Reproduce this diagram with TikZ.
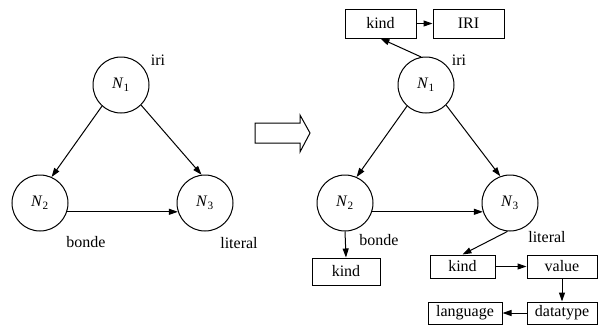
\documentclass[tikz,border=0pt]{standalone}
\usepackage{fontspec}
\setmainfont{Liberation Serif}
\usetikzlibrary{arrows.meta}
\begin{document}
\begin{tikzpicture}[x=1pt,y=-1pt,
  nd/.style={circle,draw,line width=1pt,minimum size=56pt,inner sep=0pt,font=\fontsize{16}{16}\selectfont},
  bx/.style={draw,line width=1pt,rectangle,inner sep=0pt,font=\fontsize{16}{16}\selectfont},
  lbl/.style={inner sep=0pt,font=\fontsize{16}{16}\selectfont},
  arr/.style={-{Triangle[length=9pt,width=6pt]},line width=1pt}]
\useasboundingbox (0,0) rectangle (600,325);
\newcommand{\Nn}[1]{\textit{N}\textsubscript{#1}}
% left graph
\node[nd] (a1) at (121,85) {\Nn{1}};
\node[nd] (a2) at (40,203) {\Nn{2}};
\node[nd] (a3) at (205,203) {\Nn{3}};
\node[lbl] (ai) at (158,60) {iri};
\node[lbl] (ab) at (86,242) {bonde};
\node[lbl] (al) at (239,243) {literal};
\draw[arr] (a1.228) -- (a2.66);
\draw[arr] (a1.-45) -- (a3.97);
\draw[arr] (a2.-18) -- (a3.198);
% hollow arrow
\draw[line width=1pt,line join=miter] (255,123) -- (300,123) -- (300,115) -- (310,133) -- (300,152) -- (300,143) -- (255,143) -- cycle;
% right graph
\node[nd] (b1) at (426,85) {\Nn{1}};
\node[nd] (b2) at (345,203) {\Nn{2}};
\node[nd] (b3) at (510,203) {\Nn{3}};
\node[lbl] (bi) at (459,60) {iri};
\node[lbl] (bb) at (379,240) {bonde};
\node[lbl] (bl) at (547,237) {literal};
\node[bx,minimum width=71pt,minimum height=29pt] (k1) at (380.5,23.5) {kind};
\node[bx,minimum width=71pt,minimum height=29pt] (iri) at (468.5,23.5) {IRI};
\node[bx,minimum width=68pt,minimum height=27pt] (k2) at (346,271.5) {kind};
\node[bx,minimum width=65pt,minimum height=23pt] (k3) at (462.5,266.5) {kind};
\node[bx,minimum width=70pt,minimum height=23pt] (val) at (562,266.5) {value};
\node[bx,minimum width=70pt,minimum height=22pt] (dt) at (562,313) {datatype};
\node[bx,minimum width=74pt,minimum height=22pt] (lang) at (465,313) {language};
\draw[arr] (b1.228) -- (b2.66);
\draw[arr] (b1.-45) -- (b3.110);
\draw[arr] (b2.-18) -- (b3.198);
\draw[arr] (b1.100) -- (k1.south);
\draw[arr] (k1.east) -- (iri.west);
\draw[arr] (b2.south) -- (k2.north);
\draw[arr] (b3.265) -- (k3.north);
\draw[arr] (k3.east) -- (val.west);
\draw[arr] (val.south) -- (dt.north);
\draw[arr] (dt.west) -- (lang.east);
\end{tikzpicture}
\end{document}
